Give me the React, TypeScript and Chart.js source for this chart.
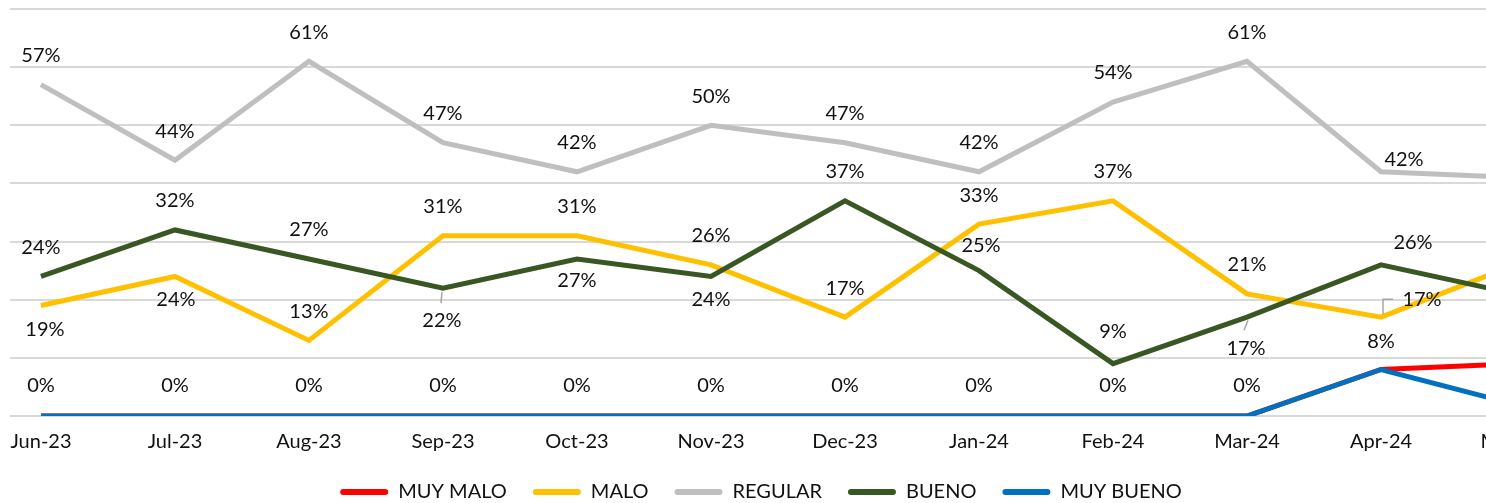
import { useEffect, useRef } from "react";
import { Chart, registerables } from "chart.js";

Chart.register(...registerables);

// ---- data ----
const months = ["Jun-23", "Jul-23", "Aug-23", "Sep-23", "Oct-23", "Nov-23", "Dec-23", "Jan-24", "Feb-24", "Mar-24", "Apr-24", "May-24"];
const muyMalo = [0, 0, 0, 0, 0, 0, 0, 0, 0, 0, 8, 9];
const malo = [19, 24, 13, 31, 31, 26, 17, 33, 37, 21, 17, 26];
const regular = [57, 44, 61, 47, 42, 50, 47, 42, 54, 61, 42, 41];
const bueno = [24, 32, 27, 22, 27, 24, 37, 25, 9, 17, 26, 21];
const muyBueno = [0, 0, 0, 0, 0, 0, 0, 0, 0, 0, 8, 2];
const yTicks = [0, 10, 20, 30, 40, 50, 60, 70];

const seriesNames = ["MUY MALO", "MALO", "REGULAR", "BUENO", "MUY BUENO"];
const seriesValues = [muyMalo, malo, regular, bueno, muyBueno];
const seriesColors = ["#FF0000", "#FFC000", "#BFBFBF", "#385723", "#0070C0"];

// ---- label placement (pixel offsets from the point) ----
const A: [number, number] = [0, -29];
const labelOffsets: ([number, number][] | null)[] = [
  null,
  [[4, 24], [1, 23], A, A, A, A, A, A, A, A, [41, -18], A],
  [A, A, A, A, A, A, A, A, A, A, [23, -12], A],
  [A, A, A, [-1, 32], [0, 22], [0, 23], A, [2, -25], [0, -32], [-1, 31], [32, -22], A],
  [[0, -30], [0, -30], [0, -30], [0, -30], [0, -30], [0, -30], [0, -30], [0, -30], [0, -30], [0, -30], [0, -28], [0, -30]],
];
const leaders: [number, number, [number, number][]][] = [
  [3, 3, [[-1, 4], [-2, 15]]],
  [3, 9, [[1, 3], [-3, 13]]],
  [1, 10, [[2, -3], [2, -18], [12, -18]]],
];

const FONT = "Lato, 'Noto Sans', sans-serif";
const TEXT = "#111111";

const labelPlugin = {
  id: "valueLabels",
  afterDatasetsDraw(chart: any) {
    const ctx = chart.ctx;
    ctx.save();
    ctx.strokeStyle = "#A6A6A6";
    ctx.lineWidth = 1.5;
    leaders.forEach(([di, pi, path]) => {
      const pt = chart.getDatasetMeta(di).data[pi];
      ctx.beginPath();
      path.forEach(([dx, dy], k) => {
        if (k === 0) ctx.moveTo(pt.x + dx, pt.y + dy);
        else ctx.lineTo(pt.x + dx, pt.y + dy);
      });
      ctx.stroke();
    });
    ctx.font = `20px ${FONT}`;
    ctx.fillStyle = TEXT;
    ctx.textAlign = "center";
    ctx.textBaseline = "middle";
    seriesValues.forEach((vals, di) => {
      const offs = labelOffsets[di];
      if (!offs) return;
      const meta = chart.getDatasetMeta(di);
      meta.data.forEach((pt: any, i: number) => {
        const [dx, dy] = offs[i];
        ctx.fillText(`${vals[i]}%`, pt.x + dx, pt.y + dy);
      });
    });
    ctx.restore();
  },
};

const CW = 1522;
const CH = 512;

export default function App() {
  const ref = useRef<HTMLCanvasElement>(null);
  useEffect(() => {
    if (!ref.current) return;
    const chart = new Chart(ref.current, {
      type: "line",
      data: {
        datasets: seriesNames.map((name, di) => ({
          label: name,
          data: seriesValues[di].map((v, i) => ({ x: i, y: v })),
          borderColor: seriesColors[di],
          backgroundColor: seriesColors[di],
          borderWidth: 5,
          pointRadius: 0,
          pointHoverRadius: 0,
          tension: 0,
          fill: false,
          order: seriesNames.length - di,
        })),
      },
      plugins: [labelPlugin],
      options: {
        animation: false,
        responsive: false,
        devicePixelRatio: 1,
        layout: { padding: { top: 9, left: 0, right: 0, bottom: 0 } },
        font: { family: FONT },
        scales: {
          x: {
            type: "linear",
            min: -0.231,
            max: 11.052,
            grid: { display: false, drawTicks: false },
            border: { display: false },
            afterBuildTicks: (s: any) => {
              s.ticks = months.map((_, i) => ({ value: i }));
            },
            afterFit: (s: any) => {
              s.paddingLeft = 0;
              s.paddingRight = 0;
              s.height = 40;
            },
            ticks: {
              autoSkip: false,
              maxRotation: 0,
              padding: 14,
              color: TEXT,
              font: { family: FONT, size: 20 },
              callback: (v: any) => months[Math.round(Number(v))] ?? "",
            },
          },
          y: {
            min: yTicks[0],
            max: yTicks[yTicks.length - 1],
            afterBuildTicks: (s: any) => {
              s.ticks = yTicks.map((v) => ({ value: v }));
            },
            afterFit: (s: any) => {
              s.width = 10;
            },
            ticks: { display: false },
            grid: { color: "#D9D9D9", lineWidth: 2, drawTicks: false },
            border: { display: false },
          },
        },
        plugins: {
          tooltip: { enabled: false },
          legend: {
            position: "bottom",
            labels: {
              boxWidth: 48,
              boxHeight: 6,
              padding: 26,
              color: TEXT,
              font: { family: FONT, size: 20 },
              useBorderRadius: true,
              borderRadius: 3,
              generateLabels: (c: any) =>
                c.data.datasets.map((ds: any, i: number) => ({
                  text: ds.label,
                  fillStyle: ds.borderColor,
                  strokeStyle: ds.borderColor,
                  lineWidth: 0,
                  hidden: false,
                  datasetIndex: i,
                  borderRadius: 3,
                  fontColor: TEXT,
                })),
            },
          },
        },
      } as any,
    });
    return () => chart.destroy();
  }, []);

  return (
    <div style={{ position: "fixed", left: 0, top: 0, width: 1486, height: 503, overflow: "hidden", background: "#fff" }}>
      <canvas ref={ref} width={CW} height={CH} style={{ display: "block", width: CW, height: CH }} />
    </div>
  );
}
